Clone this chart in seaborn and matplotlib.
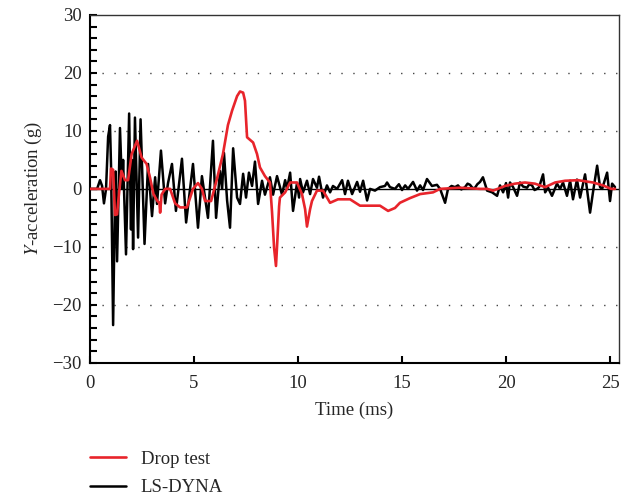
import matplotlib
matplotlib.use('Agg')
import matplotlib.pyplot as plt
import numpy as np
import pandas as pd
import seaborn as sns
from matplotlib.ticker import MultipleLocator

# LS-DYNA trace (time in ms, acceleration in g)
dyna_t = [0.00, 0.34, 0.48, 0.58, 0.67, 0.77, 0.87, 0.96, 1.01, 1.11, 1.18, 1.23,
          1.30, 1.44, 1.54, 1.59, 1.73, 1.88, 1.97, 2.02, 2.07, 2.16, 2.31, 2.43,
          2.62, 2.79, 2.98, 3.13, 3.22, 3.41, 3.61, 3.75, 3.94, 4.13, 4.42, 4.62,
          4.95, 5.19, 5.38, 5.67, 5.91, 6.06, 6.25, 6.35, 6.44, 6.59, 6.73, 6.88,
          7.07, 7.21, 7.36, 7.50, 7.64, 7.79, 7.93, 8.08, 8.27, 8.41, 8.65, 8.80,
          8.99, 9.23, 9.38, 9.47, 9.62, 9.76, 9.95, 10.05, 10.10, 10.24, 10.43, 10.58,
          10.72, 10.91, 11.01, 11.20, 11.39, 11.54, 11.68, 11.88, 12.12, 12.26, 12.40, 12.60,
          12.84, 12.98, 13.13, 13.32, 13.46, 13.70, 13.94, 14.18, 14.28, 14.42, 14.66, 14.85,
          15.00, 15.15, 15.29, 15.53, 15.72, 15.87, 16.01, 16.20, 16.44, 16.68, 16.83, 17.07,
          17.21, 17.38, 17.55, 17.69, 17.85, 18.03, 18.15, 18.27, 18.40, 18.51, 18.62, 18.75,
          18.89, 19.09, 19.33, 19.57, 19.71, 19.86, 20.00, 20.10, 20.19, 20.34, 20.53, 20.67,
          20.82, 21.01, 21.12, 21.25, 21.37, 21.49, 21.59, 21.78, 21.88, 22.02, 22.21, 22.45,
          22.60, 22.74, 22.93, 23.08, 23.22, 23.41, 23.56, 23.80, 24.04, 24.18, 24.38, 24.52,
          24.62, 24.86, 25.00, 25.10, 25.24]
dyna_g = [0, 0, 1.5, 0.5, -2.5, 0, 9, 11, 4, -23.5, -6, 3,
          -12.5, 10.5, 0, 5, -11.3, 13, -7, 5, -10.4, 12.3, -8.4, 12,
          -9.5, 4.3, -4.7, 2, -2.6, 6.6, -2.5, 1, 4.3, -3.8, 5.2, -5.8,
          4.3, -6.7, 2.2, -5, 8.3, -5, 3.1, 0, 6.2, -2, -6.7, 7,
          -1.5, -2.6, 2.6, -1.5, 2.8, 0.5, 4.7, -2.6, 1.4, -1, 2, -1,
          2.2, -1, 1.5, 0, 2.8, -3.8, 1, -1.5, 1.7, -0.6, 1.4, -0.9,
          1.7, 0.2, 2.1, -1.5, 0.6, -0.6, 0.5, 0, 1.5, -0.9, 1.4, -0.9,
          1.2, -0.5, 1.4, -2, 0, -0.3, 0.3, 0.5, 1.1, 0.3, 0, 0.8,
          -0.2, 0.6, 0, 1.2, -0.3, 0.6, -0.2, 1.7, 0.5, 0.7, 0, -2.4,
          0, 0.5, 0.3, 0.6, -0.1, 0.3, 0.9, 0.7, 0.1, 0.2, 0.8, 1.2,
          2, -0.3, -0.6, -1.2, 0.6, -0.6, 1, -1.5, 1.1, 0.3, -1.2, 1.1,
          0.4, 0.2, 0.8, 0.6, -0.2, 0, 0.3, 2.5, -0.6, 0.2, -1.2, 0.9,
          0, 1.1, -1.2, 1.4, -1.8, 1.6, -1.5, 2.5, -4.1, -0.6, 4, 0.3,
          0, 2.8, -2.1, 0.9, 0.3]

# drop test trace
drop_t = [0.00, 0.96, 1.01, 1.11, 1.20, 1.30, 1.39, 1.51, 1.68, 1.83, 2.00, 2.26,
          2.48, 2.72, 2.88, 3.05, 3.22, 3.34, 3.37, 3.44, 3.61, 3.85, 4.09, 4.33,
          4.66, 4.95, 5.19, 5.38, 5.53, 5.82, 6.08, 6.39, 6.63, 6.83, 7.07, 7.21,
          7.36, 7.45, 7.55, 7.84, 8.03, 8.17, 8.41, 8.65, 8.75, 8.85, 8.94, 8.99,
          9.09, 9.13, 9.38, 9.62, 9.95, 10.19, 10.34, 10.43, 10.58, 10.67, 10.91, 11.20,
          11.54, 11.92, 12.50, 12.98, 13.94, 14.33, 14.66, 14.90, 15.38, 15.87, 16.49, 16.83,
          17.79, 18.75, 19.09, 19.38, 19.95, 20.43, 20.91, 21.39, 21.88, 22.36, 22.84, 23.46,
          24.18, 24.66, 25.05, 25.24]
drop_g = [0, 0, 3.5, 3.3, -4.5, -4.4, -0.9, 3.1, 1.5, 1.5, 6, 8.3,
          5.4, 4.3, 2, -0.9, -2, -2.5, -4.1, -1, 0, 0, -2.5, -3.2,
          -3.2, 0, 1, 0, -2.1, -2.1, 1.4, 6, 11, 13.5, 16, 16.8,
          16.6, 15.2, 8.9, 8, 6, 3.7, 2.2, 1.1, -4, -10.2, -13.3, -10,
          -3, -1.5, -0.6, 1.1, 1.1, -0.9, -3.5, -6.5, -3.5, -2.1, -0.3, -0.3,
          -2.4, -1.8, -1.8, -2.9, -2.9, -3.8, -3.3, -2.4, -1.6, -0.9, -0.6, 0,
          0.2, 0, 0, -0.3, 0.5, 0.9, 1.1, 0.9, 0.3, 1.1, 1.4, 1.5,
          1.1, 0.6, 0, 0]

sns.set_theme(style='ticks')
plt.rcParams['font.family'] = ['Liberation Serif', 'DejaVu Serif']
plt.rcParams['mathtext.fontset'] = 'stix'

fig = plt.figure(figsize=(6.3, 4.99), dpi=100)
ax = fig.add_axes([0.1429, 0.273, 0.8396, 0.697])

# dotted grid lines + zero line
for g in [-20, -10, 10, 20]:
    ax.axhline(g, color='#444444', lw=1.0, ls=(0, (1, 7.6)), zorder=0)
ax.axhline(0, color='black', lw=1.0, zorder=1)

sns.lineplot(x=dyna_t, y=dyna_g, ax=ax, color='black', lw=1.8, sort=False,
             estimator=None, label='LS-DYNA', zorder=2)
sns.lineplot(x=drop_t, y=drop_g, ax=ax, color='#e8242b', lw=1.9, sort=False,
             estimator=None, label='Drop test', zorder=3)

ax.set_xlim(0, 25.43)
ax.set_ylim(-30, 30)
ax.set_xticks([0, 5, 10, 15, 20, 25])
ax.set_yticks([-30, -20, -10, 0, 10, 20, 30])
ax.set_yticklabels(['\u221230', '\u221220', '\u221210', '0', '10', '20', '30'])
ax.yaxis.set_minor_locator(MultipleLocator(2))
ax.tick_params(axis='both', which='both', direction='in', labelsize=13.5,
               width=1.5, top=False, right=False, color='black')
ax.tick_params(axis='y', which='major', length=5, pad=6)
ax.tick_params(axis='y', which='minor', length=5)
ax.tick_params(axis='x', which='major', length=5, pad=9)

for s in ['left', 'bottom']:
    ax.spines[s].set_linewidth(1.5)
    ax.spines[s].set_color('black')
for s in ['top', 'right']:
    ax.spines[s].set_linewidth(1.0)
    ax.spines[s].set_color('#333333')

ax.set_xlabel('Time (ms)', fontsize=13.5, labelpad=7)
ax.set_ylabel('$\\mathit{Y}$-acceleration (g)', fontsize=13.5, labelpad=6)

ax.get_legend().remove()
handles, labels = ax.get_legend_handles_labels()
order = [labels.index('Drop test'), labels.index('LS-DYNA')]
fig.legend([handles[i] for i in order], [labels[i] for i in order],
           loc='upper left', bbox_to_anchor=(0.143, 0.097), frameon=False,
           fontsize=13.5, handlelength=1.9, handletextpad=0.8,
           labelspacing=0.62, borderpad=0, borderaxespad=0)

fig.savefig('out.png', dpi=100)
